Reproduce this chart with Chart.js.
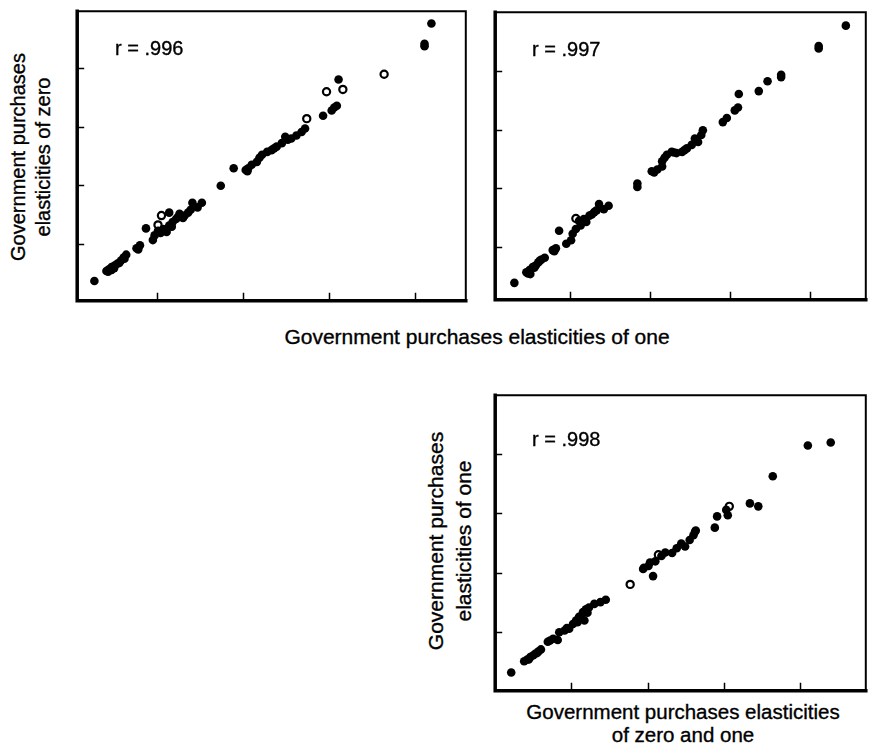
<!DOCTYPE html>
<html>
<head>
<meta charset="utf-8">
<script src="https://cdn.jsdelivr.net/npm/chart.js@4.4.1/dist/chart.umd.min.js"></script>
<style>
	html, body { margin:0; padding:0; background:#fff; overflow:hidden; }
	#wrap { position:relative; width:870px; height:756px; overflow:hidden; font-family:"Liberation Sans", Arial, sans-serif; color:#000; }
	#wrap canvas { position:absolute; }
	.txt { position:absolute; white-space:nowrap; line-height:1; -webkit-text-stroke:0.35px #000; }
	.rot { transform:translate(-50%, -50%) rotate(-90deg); }
	.ctr { transform:translate(-50%, -50%); }
</style>
</head>
<body>
<div id="wrap">
	<canvas id="c1" width="401" height="302" style="left:71px; top:5px;"></canvas>
	<canvas id="c2" width="383" height="300" style="left:489px; top:6px;"></canvas>
	<canvas id="c3" width="383" height="308" style="left:489px; top:389px;"></canvas>

	<div class="txt rot" style="left:18px; top:157px; font-size:20px;">Government purchases</div>
	<div class="txt rot" style="left:43px; top:157px; font-size:20px;">elasticities of zero</div>
	<div class="txt ctr" style="left:477px; top:336px; font-size:21px;">Government purchases elasticities of one</div>

	<div class="txt rot" style="left:435px; top:541px; font-size:21px;">Government purchases</div>
	<div class="txt rot" style="left:463px; top:541px; font-size:21px;">elasticities of one</div>
	<div class="txt ctr" style="left:683px; top:712px; font-size:20.5px;">Government purchases elasticities</div>
	<div class="txt ctr" style="left:683px; top:735px; font-size:20.5px;">of zero and one</div>

	<div class="txt" id="r1" style="left:115px; top:38px; font-size:20px;"></div>
	<div class="txt" id="r2" style="left:532px; top:39px; font-size:20px;"></div>
	<div class="txt" id="r3" style="left:532px; top:429px; font-size:20px;"></div>
</div>
<script>
// 눈금 위치 (네 칸)
var tickValues = [1, 2, 3, 4];
var rLabels = ["r = .996", "r = .997", "r = .998"];

// 1번 패널 : zero (y) vs one (x)
var zeroOneFilled = [
	[0.27,0.36],[0.41,0.53],[0.44,0.56],[0.47,0.60],[0.51,0.63],[0.54,0.66],[0.58,0.71],[0.61,0.76],[0.64,0.81],[0.47,0.55],
	[0.43,0.52],[0.50,0.58],[0.56,0.67],[0.62,0.74],
	[0.76,0.92],[0.80,0.97],[0.78,0.90],[0.87,1.26],
	[0.95,1.06],[0.97,1.14],[1.01,1.22],[1.07,1.25],[1.11,1.20],[1.14,1.31],[1.18,1.37],[1.22,1.42],[1.26,1.51],[1.32,1.48],
	[1.36,1.53],[1.41,1.70],[1.47,1.62],[1.52,1.70],[1.14,1.53],[1.04,1.18],[1.17,1.29],[1.24,1.45],[1.30,1.44],[1.39,1.58],
	[1.74,1.99],[1.89,2.29],[2.03,2.26],[2.06,2.29],[2.10,2.35],[2.16,2.40],[2.22,2.52],[2.28,2.57],[2.33,2.60],[2.39,2.66],
	[2.45,2.72],[2.49,2.83],[2.56,2.80],[2.62,2.85],[2.68,2.91],[2.72,2.97],[2.05,2.24],[2.19,2.47],[2.36,2.63],[2.52,2.78],
	[2.93,3.19],[3.03,3.28],[3.06,3.33],[3.09,3.36],[3.11,3.81],[4.11,4.38],[4.11,4.42],[4.19,4.77]
];
var zeroOneOpen = [
	[1.05,1.48],[1.01,1.32],[2.74,3.14],[2.97,3.60],[3.16,3.64],[3.64,3.90]
];

// 2번 패널
var zeroOneFilled2 = [
	[0.30,0.38],[0.45,0.56],[0.49,0.60],[0.53,0.65],[0.57,0.68],[0.60,0.73],[0.64,0.78],[0.68,0.81],[0.50,0.53],
	[0.47,0.54],[0.55,0.64],[0.62,0.76],
	[0.78,0.94],[0.82,0.97],[0.80,0.92],[0.86,1.27],[0.95,1.05],[1.01,1.11],[1.03,1.22],[1.07,1.30],[1.13,1.36],[1.17,1.47],
	[1.24,1.53],[1.30,1.59],[1.36,1.73],[1.42,1.64],[1.48,1.70],[1.11,1.44],[1.20,1.42],[1.27,1.55],[1.33,1.62],
	[1.84,2.02],[1.84,2.08],[2.02,2.29],[2.09,2.32],[2.15,2.37],[2.15,2.46],[2.21,2.57],[2.27,2.62],[2.33,2.60],[2.40,2.62],
	[2.46,2.68],[2.52,2.74],[2.56,2.85],[2.60,2.79],[2.64,2.91],[2.66,2.99],[2.05,2.27],[2.18,2.52],[2.30,2.61],[2.43,2.65],
	[2.91,3.13],[2.96,3.20],[3.06,3.33],[3.10,3.38],[3.11,3.61],[3.36,3.66],[3.47,3.83],[3.64,3.90],[3.64,3.94],
	[4.11,4.39],[4.11,4.43],[4.45,4.78]
];
var zeroOneOpen2 = [
	[1.07,1.48]
];

// 3번 패널 : one (y) vs zero and one (x)
var bothFilled = [
	[0.21,0.31],[0.38,0.50],[0.42,0.53],[0.46,0.57],[0.50,0.60],[0.53,0.63],[0.57,0.67],[0.60,0.70],[0.44,0.53],[0.55,0.64],
	[0.69,0.83],[0.76,0.88],[0.82,0.86],[0.84,0.99],[0.91,1.02],[0.97,1.05],[1.02,1.13],[1.06,1.19],[1.10,1.25],
	[1.15,1.33],[1.19,1.38],[1.23,1.41],[1.17,1.19],[1.30,1.47],[1.38,1.50],[1.45,1.54],[0.72,0.85],[0.94,1.06],
	[1.08,1.16],[1.13,1.26],[1.21,1.32],
	[1.94,2.06],[2.01,2.11],[2.07,1.94],[2.10,2.19],[1.95,2.08],[2.03,2.17],[2.23,2.34],[2.32,2.33],[2.38,2.41],
	[2.49,2.44],[2.55,2.55],[2.60,2.63],[2.63,2.71],[2.62,2.69],[2.44,2.49],[2.18,2.28],
	[2.88,2.76],[2.91,2.95],[3.05,2.97],[3.03,3.06],[3.34,3.17],[3.45,3.12],[3.64,3.63],[4.10,4.15],[4.40,4.20]
];
var bothOpen = [
	[1.77,1.80],[2.14,2.30],[3.07,3.12]
];

// 패널별 축 범위
var xRanges = [[0.07, 4.59], [0.06, 4.70], [0.00, 4.86]];
var yRanges = [[0.02, 4.98], [0.09, 5.01], [0.00, 5.00]];

function toPoints(list){
	return list.map(function(p){ return { x: p[0], y: p[1] }; });
}

// 테두리 + 안쪽 눈금
var frameTicks = {
	id : 'frameTicks',
	afterDatasetsDraw : function(chart){
		var ctx = chart.ctx,
			a = chart.chartArea,
			xs = chart.scales.x,
			ys = chart.scales.y;

		ctx.save();
		ctx.strokeStyle = '#000';
		ctx.lineCap = 'square';

		// 위, 오른쪽 (얇게)
		ctx.lineWidth = 2;
		ctx.beginPath();
		ctx.moveTo(a.left, a.top); ctx.lineTo(a.right, a.top); ctx.lineTo(a.right, a.bottom);
		ctx.stroke();

		// 왼쪽, 아래 (두껍게)
		ctx.lineWidth = 3.5;
		ctx.beginPath();
		ctx.moveTo(a.left, a.top); ctx.lineTo(a.left, a.bottom); ctx.lineTo(a.right, a.bottom);
		ctx.stroke();

		ctx.lineWidth = 1.5;
		ctx.lineCap = 'butt';
		ctx.beginPath();
		tickValues.forEach(function(v){
			var px = Math.round(xs.getPixelForValue(v)) + 0.5;
			ctx.moveTo(px, a.bottom); ctx.lineTo(px, a.bottom - 8);
			var py = Math.round(ys.getPixelForValue(v)) + 0.5;
			ctx.moveTo(a.left, py); ctx.lineTo(a.left + 7, py);
		});
		ctx.stroke();
		ctx.restore();
	}
};

function makePanel(id, filled, open, idx){
	new Chart(document.getElementById(id), {
		type : 'scatter',
		data : {
			datasets : [
				{ data: toPoints(filled), pointRadius: 4.3, pointBackgroundColor: '#000', pointBorderColor: '#000', pointBorderWidth: 0 },
				{ data: toPoints(open), pointRadius: 3.6, pointBackgroundColor: '#fff', pointBorderColor: '#000', pointBorderWidth: 2.2 }
			]
		},
		options : {
			responsive : false,
			animation : false,
			layout : { padding: 4 },
			plugins : { legend: { display: false }, tooltip: { enabled: false } },
			scales : {
				x : { type: 'linear', display: false, min: xRanges[idx][0], max: xRanges[idx][1] },
				y : { type: 'linear', display: false, min: yRanges[idx][0], max: yRanges[idx][1] }
			}
		},
		plugins : [frameTicks]
	});
	document.getElementById('r' + (idx + 1)).textContent = rLabels[idx];
}

makePanel('c1', zeroOneFilled, zeroOneOpen, 0);
makePanel('c2', zeroOneFilled2, zeroOneOpen2, 1);
makePanel('c3', bothFilled, bothOpen, 2);
</script>
</body>
</html>
